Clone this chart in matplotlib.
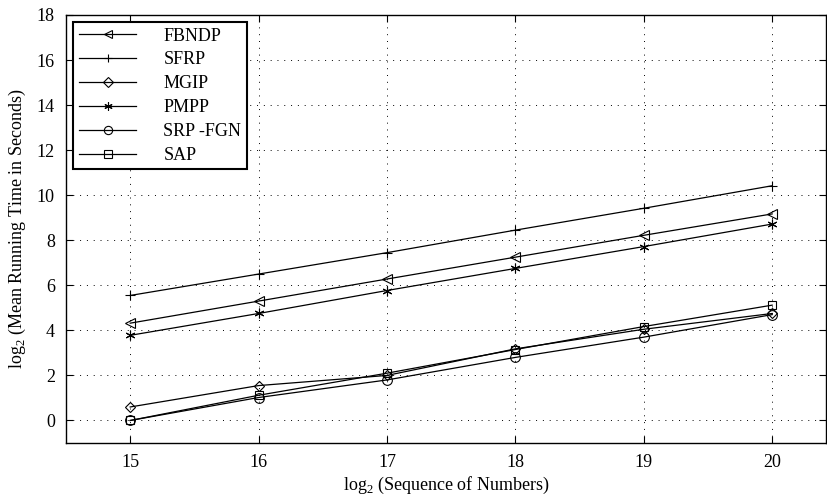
import numpy as np
import matplotlib
matplotlib.use("Agg")
import matplotlib.pyplot as plt

plt.rcParams['font.family'] = ['Liberation Serif', 'DejaVu Serif']
plt.rcParams['mathtext.fontset'] = 'custom'
plt.rcParams['mathtext.rm'] = 'Liberation Serif'

# log2 of sequence length
x = [15, 16, 17, 18, 19, 20]

fbndp = [4.32, 5.3, 6.28, 7.25, 8.22, 9.17]
sfrp = [5.55, 6.5, 7.45, 8.45, 9.42, 10.42]
mgip = [0.6, 1.55, 2.0, 3.18, 4.05, 4.75]
pmpp = [3.78, 4.75, 5.77, 6.75, 7.72, 8.72]
srpfgn = [0.0, 1.02, 1.8, 2.8, 3.7, 4.7]
sap = [0.0, 1.12, 2.1, 3.15, 4.17, 5.12]

fig = plt.figure(figsize=(8.28, 4.98), dpi=100)
ax = fig.add_axes([0.0797, 0.1104, 0.918, 0.8595])

ms = 7
ax.plot(x, fbndp, color="black", lw=0.9, marker="<", ms=ms, mfc="none", mew=0.8, label="FBNDP")
ax.plot(x, sfrp, color="black", lw=0.9, marker="+", ms=ms, mew=0.8, label="SFRP")
ax.plot(x, mgip, color="black", lw=0.9, marker="D", ms=5.5, mfc="none", mew=0.8, label="MGIP")
ax.plot(x, pmpp, color="black", lw=0.9, marker=(6, 2, 0), ms=ms, mew=0.8, label="PMPP")
ax.plot(x, srpfgn, color="black", lw=0.9, marker="o", ms=ms, mfc="none", mew=0.8, label="SRP -FGN")
ax.plot(x, sap, color="black", lw=0.9, marker="s", ms=6, mfc="none", mew=0.8, label="SAP")

ax.set_xlim(14.5, 20.42)
ax.set_ylim(-1, 18)
ax.set_xticks(x)
ax.set_yticks(np.arange(0, 19, 2))
ax.grid(True, color="black", linestyle=(0, (1, 6)), linewidth=0.7)
ax.tick_params(direction="in", top=True, right=True, labelsize=13, length=5)
ax.tick_params(axis="x", pad=8)
ax.tick_params(axis="y", pad=8)
for s in ax.spines.values():
    s.set_linewidth(1.0)

ax.set_xlabel("log$_2$ (Sequence of Numbers)", fontsize=13, labelpad=3)
ax.set_ylabel("log$_2$ (Mean Running Time in Seconds)", fontsize=13, labelpad=6)

leg = ax.legend(loc="upper left", fontsize=13, fancybox=False, framealpha=1,
                edgecolor="black", borderaxespad=0.4, handlelength=3.2,
                labelspacing=0.38, handletextpad=1.5, borderpad=0.3,
                markerscale=0.85)
leg.get_frame().set_linewidth(1.5)

fig.savefig("out.png", dpi=100)
